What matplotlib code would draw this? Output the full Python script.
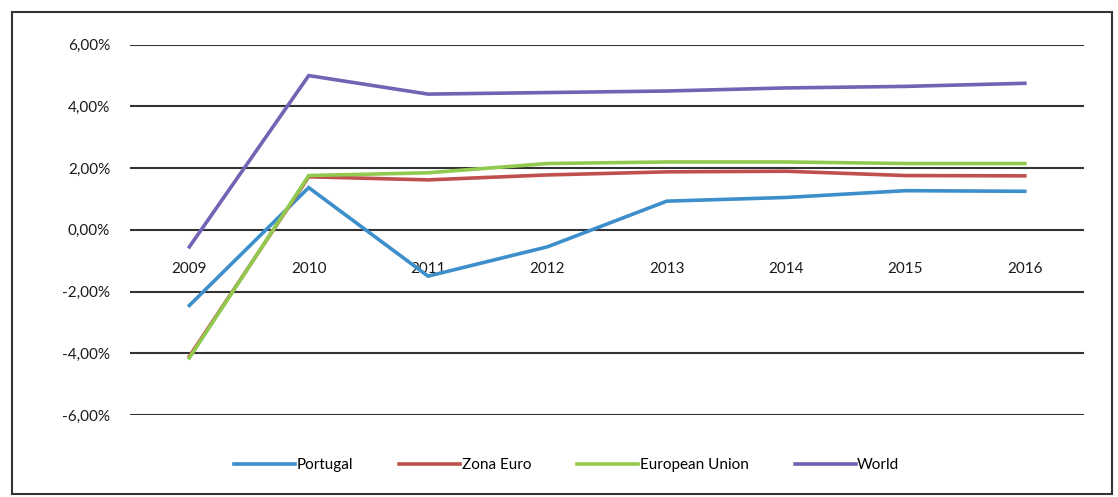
import matplotlib
matplotlib.use("Agg")
import matplotlib.pyplot as plt
from matplotlib.patches import Rectangle
from matplotlib.ticker import FuncFormatter

years = ["2009", "2010", "2011", "2012", "2013", "2014", "2015", "2016"]
portugal = [-2.45, 1.37, -1.5, -0.55, 0.93, 1.05, 1.27, 1.25]
zona_euro = [-4.1, 1.72, 1.62, 1.78, 1.88, 1.9, 1.76, 1.75]
european_union = [-4.15, 1.76, 1.85, 2.15, 2.2, 2.2, 2.15, 2.15]
world = [-0.55, 5.0, 4.4, 4.45, 4.5, 4.6, 4.65, 4.75]

plt.rcParams["font.family"] = ["Lato", "DejaVu Sans"]

fig = plt.figure(figsize=(11.18, 4.97), dpi=100)
ax = fig.add_axes([0.116, 0.165, 0.854, 0.745])

x = list(range(len(years)))
series = [
    ("Portugal", portugal, "#3d8fcc"),
    ("Zona Euro", zona_euro, "#c0504d"),
    ("European Union", european_union, "#92c94f"),
    ("World", world, "#7462b4"),
]
for name, vals, col in series:
    ax.plot(x, vals, color=col, lw=2.6, label=name, solid_joinstyle="miter")

ax.set_xlim(-0.5, len(years) - 0.5)
ax.set_ylim(-6, 6)
ax.set_yticks([-6, -4, -2, 0, 2, 4, 6])
ax.yaxis.set_major_formatter(FuncFormatter(lambda v, p: f"{v:.2f}%".replace(".", ",")))
ax.grid(axis="y", color="#333333", lw=1.5)
ax.set_axisbelow(True)
ax.set_xticks(x)
ax.set_xticklabels(years)
for s in ax.spines.values():
    s.set_visible(False)
ax.spines["bottom"].set_position(("data", 0))
ax.tick_params(axis="x", length=0, pad=23, labelsize=11, colors="#1a1a1a")
ax.tick_params(axis="y", length=0, pad=14, labelsize=11, colors="#1a1a1a")

fig.legend(loc="center", bbox_to_anchor=(0.507, 0.064), ncol=4, frameon=False,
           fontsize=11, handlelength=4, handletextpad=0.1, columnspacing=3.0)

fig.patches.append(Rectangle((12 / 1118, 3 / 497), 1100 / 1118, 482 / 497,
                             transform=fig.transFigure, fill=False,
                             edgecolor="#333333", lw=1.5))

fig.savefig("out.png", dpi=100)
